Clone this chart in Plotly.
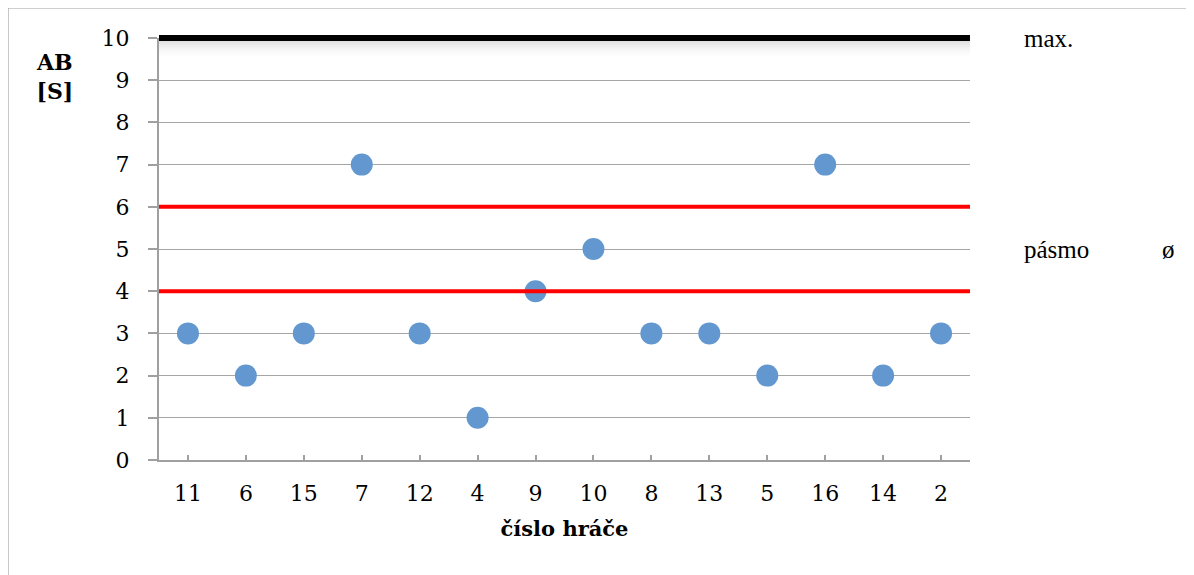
import plotly.graph_objects as go

players = ["11", "6", "15", "7", "12", "4", "9", "10", "8", "13", "5", "16", "14", "2"]
ab_values = [3, 2, 3, 7, 3, 1, 4, 5, 3, 3, 2, 7, 2, 3]
max_value = 10
band_low = 4
band_high = 6
y_ticks = list(range(0, 11))
y_min, y_max = 0, 10

SERIF = "DejaVu Serif"
TIMES = "Liberation Serif, Times New Roman, serif"

fig = go.Figure()
x_lo, x_hi = -0.5, len(players) - 0.5

# soft shadow under the max line
for k, op in enumerate([0.22, 0.18, 0.14, 0.10, 0.07, 0.05, 0.03, 0.015]):
    fig.add_shape(type="rect", xref="x", yref="y",
                  x0=x_lo, x1=x_hi,
                  y0=max_value - 0.07 - (k + 1) * 0.045, y1=max_value - 0.07 - k * 0.045,
                  fillcolor=f"rgba(120,120,120,{op})", line_width=0, layer="below")

fig.add_trace(go.Scatter(
    x=players, y=ab_values, mode="markers",
    marker=dict(size=22, color="rgb(98,151,207)", line=dict(width=0)),
    showlegend=False, cliponaxis=False,
))

# max line (paper y so it is not clipped at the top edge)
fig.add_shape(type="line", xref="x", yref="paper",
              x0=x_lo, x1=x_hi,
              y0=(max_value - y_min) / (y_max - y_min), y1=(max_value - y_min) / (y_max - y_min),
              line=dict(color="black", width=6), layer="above")
for val in (band_low, band_high):
    fig.add_shape(type="line", xref="x", yref="y",
                  x0=x_lo, x1=x_hi, y0=val, y1=val,
                  line=dict(color="#FF0000", width=4), layer="above")

# outer border (left and top edges visible)
fig.add_shape(type="rect", xref="paper", yref="paper",
              x0=-0.1862, x1=1.5, y0=-0.5, y1=1.0711,
              line=dict(color="#A0A0A0", width=1.2), fillcolor="rgba(0,0,0,0)")

fig.add_annotation(text="max.", xref="paper", yref="y", x=1.064, y=max_value,
                   xanchor="left", yanchor="middle", showarrow=False,
                   font=dict(family=TIMES, size=25, color="black"))
fig.add_annotation(text="pásmo", xref="paper", yref="y", x=1.064, y=(band_low + band_high) / 2,
                   xanchor="left", yanchor="middle", showarrow=False,
                   font=dict(family=TIMES, size=25, color="black"))
fig.add_annotation(text="ø", xref="paper", yref="y", x=1.234, y=(band_low + band_high) / 2,
                   xanchor="left", yanchor="middle", showarrow=False,
                   font=dict(family=TIMES, size=25, color="black"))
fig.add_annotation(text="<b>AB</b><br><b>[S]</b>", xref="paper", yref="paper",
                   x=-0.129, y=0.908, xanchor="center", yanchor="middle", showarrow=False,
                   align="center", font=dict(family=SERIF, size=22, color="black"))

fig.update_layout(
    width=1186, height=567,
    margin=dict(l=151, r=224, t=30, b=115),
    paper_bgcolor="white", plot_bgcolor="white",
    xaxis=dict(
        type="category", range=[x_lo, x_hi],
        showline=True, linecolor="#A0A0A0", linewidth=2,
        ticks="inside", ticklen=5, tickcolor="#A0A0A0", tickwidth=2,
        showgrid=False, zeroline=False,
        tickfont=dict(family=SERIF, size=22, color="black"),
        ticklabelstandoff=13,
        title=dict(text="<b>číslo hráče</b>", standoff=16,
                   font=dict(family=SERIF, size=21, color="black")),
    ),
    yaxis=dict(
        range=[y_min, y_max], tickvals=y_ticks,
        showline=True, linecolor="#A0A0A0", linewidth=2,
        ticks="outside", ticklen=9, tickcolor="#A0A0A0", tickwidth=2,
        showgrid=True, gridcolor="#A6A6A6", gridwidth=1.2,
        zeroline=False,
        tickfont=dict(family=SERIF, size=22, color="black"),
        ticklabelstandoff=14,
    ),
)

fig.write_html("out.html")
